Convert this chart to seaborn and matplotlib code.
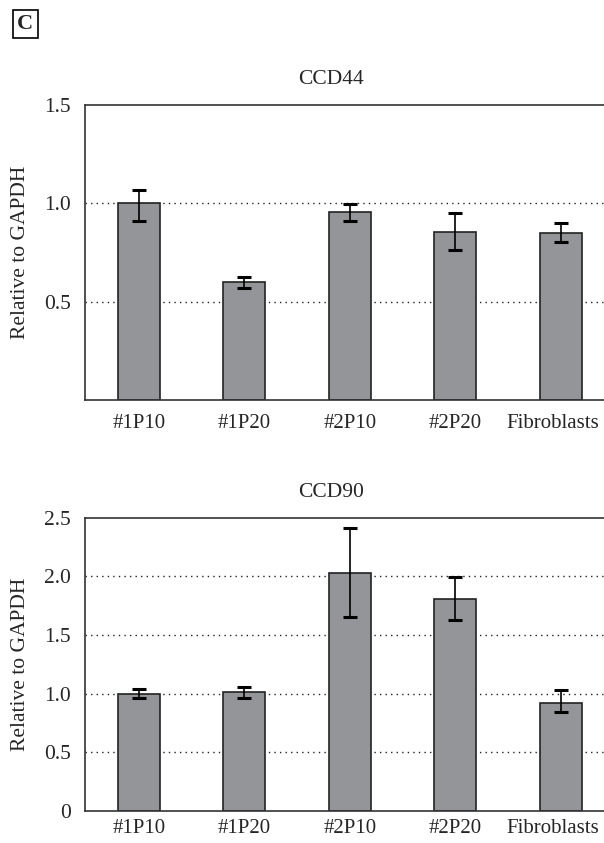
import matplotlib
matplotlib.use("Agg")
import matplotlib.pyplot as plt
import matplotlib.transforms as mtransforms
import seaborn as sns
import pandas as pd
import numpy as np

samples = ["#1P10", "#1P20", "#2P10", "#2P20", "Fibroblasts"]

cd44_mean = [1.00, 0.60, 0.955, 0.855, 0.85]
cd44_err_low = [0.088, 0.032, 0.044, 0.094, 0.049]
cd44_err_high = [0.068, 0.024, 0.044, 0.094, 0.049]

cd90_mean = [1.00, 1.01, 2.03, 1.81, 0.92]
cd90_err_low = [0.035, 0.045, 0.38, 0.18, 0.08]
cd90_err_high = [0.035, 0.045, 0.38, 0.18, 0.11]

sns.set_style("white")
plt.rcParams["font.family"] = ["Liberation Serif", "DejaVu Serif"]
plt.rcParams["font.size"] = 15

fig = plt.figure(figsize=(6.04, 8.43), dpi=100)

ax1 = fig.add_axes([0.1407, 0.5255, 0.8593, 0.3499])
ax2 = fig.add_axes([0.1407, 0.0380, 0.8593, 0.3481])

bar_color = "#939598"


def draw_panel(ax, means, err_low, err_high, title, ymax, yticks, yticklabels, xpad):
    df = pd.DataFrame({"sample": samples, "value": means})
    sns.barplot(data=df, x="sample", y="value", ax=ax, color=bar_color,
                width=0.4, edgecolor="#222222", linewidth=1.2,
                saturation=1, errorbar=None)
    ax.errorbar(np.arange(len(samples)), means,
                yerr=[err_low, err_high], fmt="none", ecolor="black",
                elinewidth=1.2, capsize=5, capthick=2.2, zorder=5)

    ax.set_xlim(-0.51, 4.41)
    ax.set_ylim(0, ymax)
    ax.set_yticks(yticks)
    ax.set_yticklabels(yticklabels)
    for y in yticks:
        if 0 < y < ymax:
            ax.axhline(y, color="#222222", linestyle=(0, (1, 3)),
                       linewidth=1.0, zorder=0)

    ax.set_title(title, fontsize=15.5, pad=15, x=0.474)
    ax.set_xlabel("")
    ax.set_ylabel("Relative to GAPDH", fontsize=15.5, labelpad=10)
    ax.tick_params(axis="y", length=0, labelsize=15.5, pad=10)
    ax.tick_params(axis="x", length=0, labelsize=15, pad=xpad)

    # last label sits a bit to the left so it stays inside the figure
    last = ax.get_xticklabels()[-1]
    last.set_transform(last.get_transform() +
                       mtransforms.ScaledTranslation(-8 / 100, 0, fig.dpi_scale_trans))

    for side in ["top", "left", "bottom"]:
        ax.spines[side].set_visible(True)
        ax.spines[side].set_color("#333333")
        ax.spines[side].set_linewidth(1.2)
    ax.spines["right"].set_visible(False)


draw_panel(ax1, cd44_mean, cd44_err_low, cd44_err_high, "CCD44",
           1.5, [0.5, 1.0, 1.5], ["0.5", "1.0", "1.5"], 10)
draw_panel(ax2, cd90_mean, cd90_err_low, cd90_err_high, "CCD90",
           2.5, [0, 0.5, 1.0, 1.5, 2.0, 2.5],
           ["0", "0.5", "1.0", "1.5", "2.0", "2.5"], 6)

fig.text(0.042, 0.9715, "C", fontsize=16, fontweight="bold",
         ha="center", va="center",
         bbox=dict(boxstyle="square,pad=0.2", facecolor="white",
                   edgecolor="black", linewidth=1.2))

fig.savefig("out.png", dpi=100)
